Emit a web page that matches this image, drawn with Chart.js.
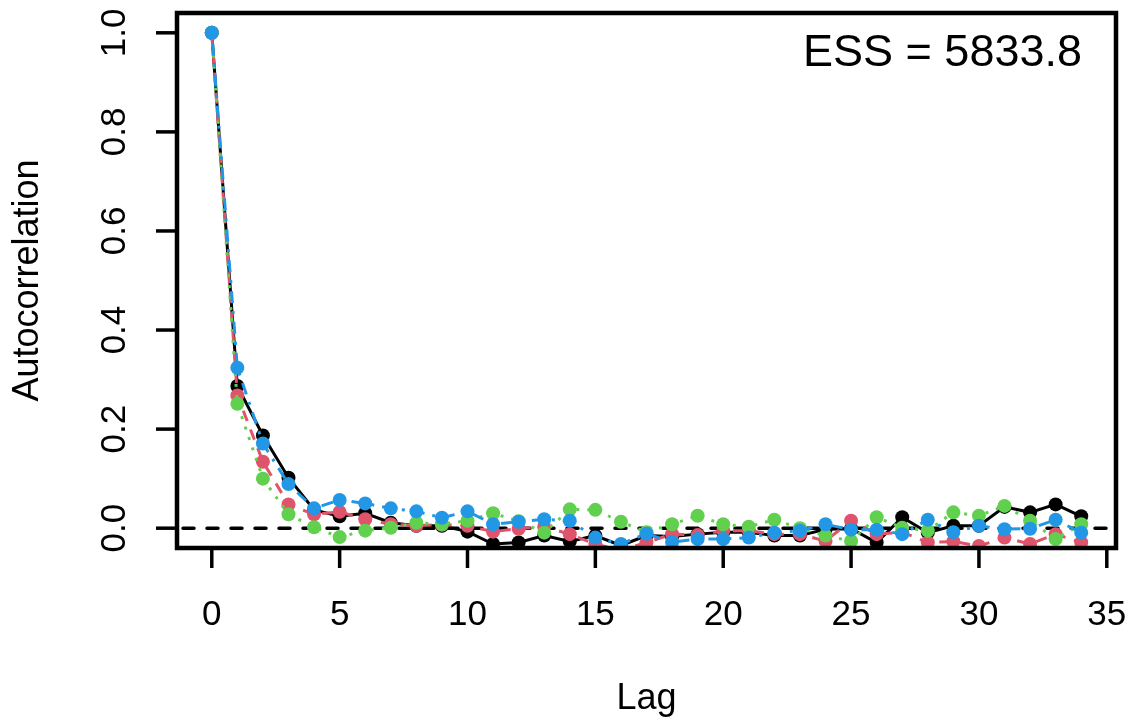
<!DOCTYPE html>
<html>
<head>
<meta charset="utf-8">
<script src="https://cdn.jsdelivr.net/npm/chart.js@4.4.0/dist/chart.umd.min.js"></script>
<style>
  html, body { margin: 0; padding: 0; background: #fff; }
  #wrap { width: 1132px; height: 724px; }
</style>
</head>
<body>
<div id="wrap"><canvas id="acf" width="1132" height="724"></canvas></div>
<script>
// Datos: autocorrelación por retardo para las 4 cadenas
var lags = [0, 1, 2, 3, 4, 5, 6, 7, 8, 9, 10, 11, 12, 13, 14, 15, 16, 17, 18, 19, 20, 21, 22, 23, 24, 25, 26, 27, 28, 29, 30, 31, 32, 33, 34];
var chain1 = [1.0, 0.287, 0.187, 0.102, 0.037, 0.024, 0.030, 0.011, 0.005, 0.005, -0.007, -0.032, -0.029, -0.015, -0.027, -0.015, -0.035, -0.015, -0.017, -0.012, -0.008, -0.008, -0.015, -0.015, -0.002, -0.001, -0.029, 0.022, -0.009, 0.005, 0.005, 0.043, 0.032, 0.048, 0.024];
var chain2 = [1.0, 0.268, 0.134, 0.048, 0.028, 0.033, 0.018, 0.008, 0.005, 0.007, 0.005, -0.007, -0.001, 0.003, -0.012, -0.032, -0.045, -0.029, -0.012, -0.014, -0.005, -0.005, -0.012, -0.012, -0.026, 0.015, -0.012, -0.008, -0.029, -0.027, -0.036, -0.019, -0.032, -0.012, -0.029];
var chain3 = [1.0, 0.251, 0.100, 0.028, 0.002, -0.018, -0.005, 0.001, 0.011, 0.008, 0.015, 0.030, 0.014, -0.009, 0.038, 0.037, 0.013, -0.008, 0.008, 0.025, 0.008, 0.003, 0.017, 0.0, -0.015, -0.026, 0.022, 0.001, -0.005, 0.032, 0.025, 0.045, 0.015, -0.022, 0.008];
var chain4 = [1.0, 0.324, 0.171, 0.089, 0.040, 0.057, 0.050, 0.040, 0.034, 0.021, 0.034, 0.008, 0.013, 0.018, 0.015, -0.019, -0.032, -0.011, -0.028, -0.022, -0.022, -0.019, -0.009, -0.005, 0.008, -0.003, -0.003, -0.012, 0.017, -0.008, 0.005, -0.002, -0.001, 0.017, -0.009];
var xTicks = [0, 5, 10, 15, 20, 25, 30, 35];
var yTicks = [0.0, 0.2, 0.4, 0.6, 0.8, 1.0];
var yTickLabels = ["0.0", "0.2", "0.4", "0.6", "0.8", "1.0"];
var essText = "ESS = 5833.8";

var FONT = "'Liberation Sans', Arial, sans-serif";

function pts(vals) {
  return lags.map(function (l, i) { return { x: l, y: vals[i] }; });
}

function serie(vals, color, dash, order) {
  return {
    data: pts(vals),
    borderColor: color,
    backgroundColor: color,
    pointBackgroundColor: color,
    pointBorderWidth: 0,
    pointRadius: 7,
    borderWidth: 3,
    borderDash: dash,
    tension: 0,
    clip: 0,
    order: order
  };
}

// Ejes, caja, línea del cero y textos al estilo R
var rAxes = {
  id: 'rAxes',
  beforeDatasetsDraw: function (chart) {
    var c = chart.ctx, a = chart.chartArea;
    var y0 = chart.scales.y.getPixelForValue(0);
    c.save();
    c.beginPath();
    c.rect(a.left, a.top, a.right - a.left, a.bottom - a.top);
    c.clip();
    c.strokeStyle = '#000';
    c.lineWidth = 3.5;
    c.lineCap = 'round';
    c.setLineDash([11, 13]);
    c.beginPath();
    c.moveTo(a.left + 6, y0);
    c.lineTo(a.right, y0);
    c.stroke();
    c.restore();
  },
  afterDraw: function (chart) {
    var c = chart.ctx, a = chart.chartArea;
    var xs = chart.scales.x, ys = chart.scales.y;
    c.save();
    c.strokeStyle = '#000';
    c.fillStyle = '#000';
    c.setLineDash([]);
    c.lineWidth = 4.5;
    c.strokeRect(a.left, a.top, a.right - a.left, a.bottom - a.top);

    // marcas y etiquetas del eje x
    c.lineWidth = 3.5;
    c.font = '35px ' + FONT;
    c.textAlign = 'center';
    c.textBaseline = 'alphabetic';
    xTicks.forEach(function (t) {
      var px = xs.getPixelForValue(t);
      c.beginPath();
      c.moveTo(px, a.bottom);
      c.lineTo(px, a.bottom + 20);
      c.stroke();
      c.fillText(String(t), px, 625);
    });

    // marcas y etiquetas del eje y (texto girado)
    yTicks.forEach(function (t, i) {
      var py = ys.getPixelForValue(t);
      c.beginPath();
      c.moveTo(a.left, py);
      c.lineTo(a.left - 21, py);
      c.stroke();
      c.save();
      c.translate(125, py);
      c.rotate(-Math.PI / 2);
      c.fillText(yTickLabels[i], 0, 0);
      c.restore();
    });

    // títulos
    c.font = '36px ' + FONT;
    c.fillText('Lag', (a.left + a.right) / 2, 709);
    c.save();
    c.translate(38, (a.top + a.bottom) / 2);
    c.rotate(-Math.PI / 2);
    c.fillText('Autocorrelation', 0, 0);
    c.restore();

    c.font = '45px ' + FONT;
    c.textAlign = 'right';
    c.fillText(essText, 1082, 66);
    c.restore();
  }
};

var grafica = new Chart("acf", {
  type: 'line',
  data: {
    datasets: [
      serie(chain1, '#000000', [], 4),
      serie(chain2, '#DF536B', [11, 9], 3),
      serie(chain3, '#61D04F', [3, 8], 2),
      serie(chain4, '#2297E6', [3, 8, 12, 8], 1)
    ]
  },
  options: {
    responsive: false,
    animation: false,
    events: [],
    layout: { padding: { left: 0, top: 13, right: 16, bottom: 0 } },
    plugins: { legend: { display: false }, tooltip: { enabled: false } },
    scales: {
      x: {
        type: 'linear', min: -1.36, max: 35.36,
        grid: { display: false }, border: { display: false }, ticks: { display: false },
        afterFit: function (s) { s.height = 724 - 548; }
      },
      y: {
        type: 'linear', min: -0.04, max: 1.04,
        grid: { display: false }, border: { display: false }, ticks: { display: false },
        afterFit: function (s) { s.width = 177; }
      }
    }
  },
  plugins: [rAxes]
});
</script>
</body>
</html>
